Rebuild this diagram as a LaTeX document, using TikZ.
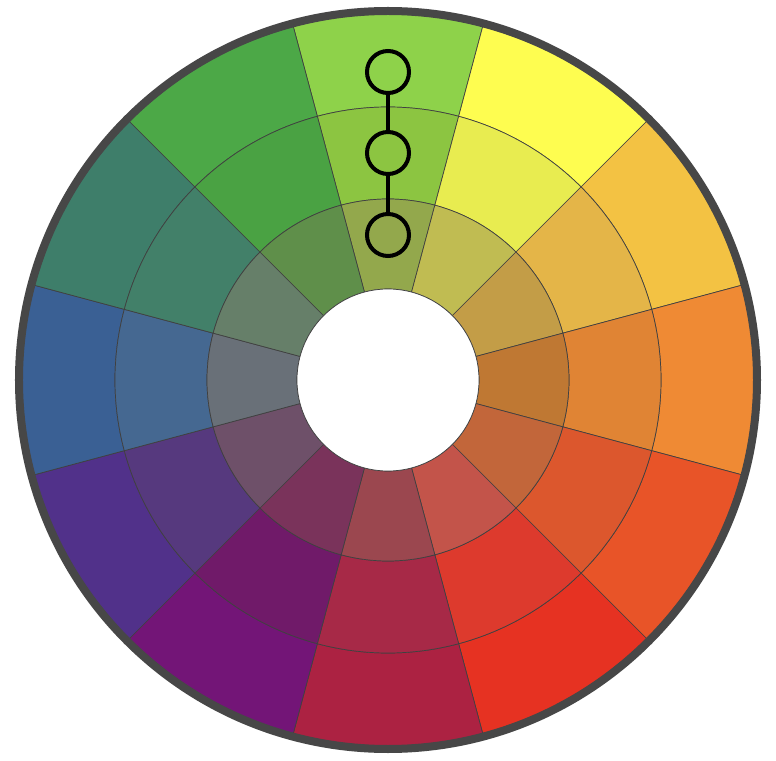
\documentclass[tikz,border=0pt]{standalone}
\usepackage{tikz}
\usetikzlibrary{calc}

\begin{document}
\begin{tikzpicture}[x=1pt,y=1pt,
  seg/.style={draw=black!75,line width=0.7},
  ring dot/.style={circle,draw=black,line width=4,minimum size=42,inner sep=0pt},
  link/.style={black,line width=4}]
  \useasboundingbox (-388,-380) rectangle (388,380);
  % Wheel segments: angle / outer / middle / inner colour
  \foreach \a/\co/\cm/\ci in {90/8ED24A/8CC541/93A84C,60/FEFD50/E8EC50/C0BC52,
      30/F3C243/E4B548/C39D47,0/EF8A34/E08434/BF7833,-30/E85428/DC572D/C2663A,
      -60/E63222/DD3A2D/C3544A,-90/AC2242/A72947/9B474F,-120/731577/701A69/7A335B,
      -150/51318A/56397E/6E5069,180/3A6094/456891/697078,150/3E7E6A/428069/667F69,
      120/4CA847/4AA243/5F8F4A}{
    \definecolor{segout}{HTML}{\co}
    \definecolor{segmid}{HTML}{\cm}
    \definecolor{segin}{HTML}{\ci}
    \filldraw[seg,fill=segout] (\a-15:273) arc[start angle=\a-15,end angle=\a+15,radius=273]
      -- (\a+15:366) arc[start angle=\a+15,end angle=\a-15,radius=366] -- cycle;
    \filldraw[seg,fill=segmid] (\a-15:181) arc[start angle=\a-15,end angle=\a+15,radius=181]
      -- (\a+15:273) arc[start angle=\a+15,end angle=\a-15,radius=273] -- cycle;
    \filldraw[seg,fill=segin] (\a-15:91) arc[start angle=\a-15,end angle=\a+15,radius=91]
      -- (\a+15:181) arc[start angle=\a+15,end angle=\a-15,radius=181] -- cycle;
  }
  % Centre hole and rim
  \filldraw[seg,fill=white] (0,0) circle (91);
  \draw[line width=8,black!72] (0,0) circle (369);
  % Monochromatic markers
  \node[ring dot] (outer) at (0,308) {};
  \node[ring dot] (middle) at (0,227) {};
  \node[ring dot] (inner) at (0,145) {};
  \draw[link] (outer) -- (middle);
  \draw[link] (middle) -- (inner);
\end{tikzpicture}
\end{document}
